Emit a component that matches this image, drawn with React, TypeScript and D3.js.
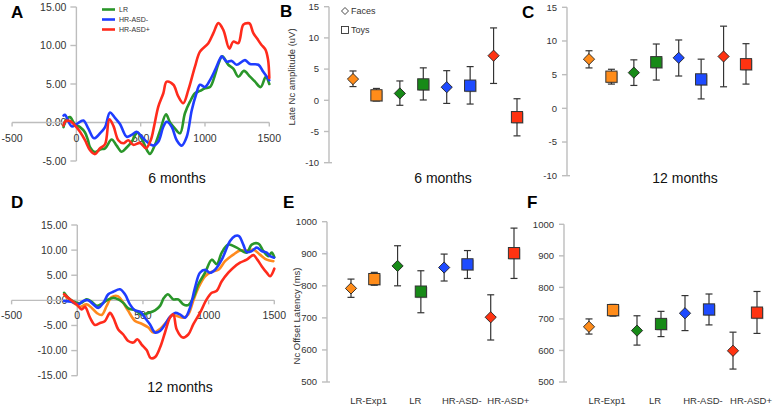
import React from 'react';
import * as d3 from 'd3';

// ---------- DATA ----------
const timeTicks = [-500, 0, 500, 1000, 1500];
const ampTicksA = [-5, 0, 5, 10, 15];
const ampTicksD = [-15, -10, -5, 0, 5, 10, 15];
const ncTicks = [-10, -5, 0, 5, 10, 15];
const latTicks = [500, 600, 700, 800, 900, 1000];

const groups = ['LR-Exp1', 'LR', 'HR-ASD-', 'HR-ASD+'];
const conditions = ['Faces', 'Toys'];
const groupColors = ['#FF8C1A', '#178A17', '#1E4BFF', '#FF3311'];
const lineColors = { exp1: '#FF8A1E', lr: '#2A962A', neg: '#1F3DFF', pos: '#FF2B1C' };

// Panel A: 6 months ERP (time ms, amplitude uV)
const a6LR: [number, number][] = [[-100,-0.6],[-89,0.1],[-50,0.7],[-10,-0.3],[28,-0.6],[67,-1.3],[90,-2.3],[106,-3.2],[145,-3.85],[184,-3.5],[223,-3.35],[274,-2.2],[313,-3.0],[352,-3.8],[391,-3.25],[430,-2.5],[474,-1.3],[508,-2.1],[552,-3.7],[572,-4.1],[611,-2.9],[650,-1.1],[697,1.05],[728,0.0],[767,-0.8],[806,-1.4],[844,1.2],[883,2.7],[922,3.8],[961,4.1],[1000,4.45],[1039,4.6],[1078,6.2],[1104,7.6],[1135,8.6],[1181,7.5],[1220,7.0],[1259,5.95],[1303,6.7],[1350,5.95],[1389,5.3],[1433,4.6],[1472,5.9],[1500,5.0]];
const a6HRneg: [number, number][] = [[-100,0.9],[-89,1.0],[-37,-0.5],[2,-0.2],[54,0.25],[93,-0.8],[137,-2.05],[184,-1.4],[223,-0.6],[261,1.3],[300,0.6],[339,-0.2],[391,-1.85],[430,-1.6],[469,-1.2],[508,-1.85],[547,-2.5],[598,-3.0],[637,-2.5],[676,-0.55],[702,0.1],[741,-0.55],[780,-2.3],[819,-3.0],[858,-1.85],[897,1.6],[930,3.6],[961,4.9],[1000,4.6],[1039,5.5],[1078,6.8],[1117,8.3],[1130,8.6],[1169,7.9],[1208,8.0],[1246,7.5],[1311,8.1],[1350,7.6],[1415,7.5],[1453,6.6],[1500,5.5]];
const a6HRpos: [number, number][] = [[-100,-0.4],[-89,0.1],[-50,0.2],[-10,-0.4],[28,-1.2],[67,-2.3],[106,-3.6],[145,-4.1],[184,-3.35],[223,-2.8],[256,0.4],[287,-0.4],[326,-2.3],[365,-2.7],[404,-2.3],[443,-2.9],[495,-2.65],[541,-3.35],[578,-2.3],[604,-0.5],[637,2.05],[676,3.8],[702,5.3],[754,4.9],[793,3.35],[831,2.5],[870,4.2],[922,7.25],[961,9.2],[1026,10.3],[1065,11.6],[1104,12.9],[1143,12.0],[1189,9.6],[1220,10.5],[1259,10.3],[1298,12.7],[1337,12.9],[1350,12.8],[1376,11.6],[1405,10.9],[1438,10.1],[1469,9.5],[1490,8.2],[1500,5.8]];

// Panel D: 12 months ERP
const d12Exp1: [number, number][] = [[-100,1.2],[-56,0.0],[-5,-0.9],[21,-1.3],[71,-0.8],[110,-1.5],[148,-2.5],[186,-2.9],[224,-1.1],[262,0.65],[312,0.8],[350,-0.5],[388,-2.1],[440,-4.1],[490,-4.65],[541,-5.4],[579,-6.4],[630,-5.7],[681,-4.25],[719,-3.0],[757,-3.1],[807,-3.45],[845,-2.8],[883,-0.1],[922,2.5],[973,4.8],[1024,5.7],[1075,6.1],[1125,7.8],[1188,9.1],[1239,9.9],[1302,9.9],[1341,10.1],[1391,9.1],[1442,8.1],[1493,7.8]];
const d12LR: [number, number][] = [[-100,1.5],[-56,0.2],[-5,-0.5],[33,-0.5],[71,0.2],[110,-0.3],[148,-1.1],[186,-0.7],[224,0.0],[274,0.5],[312,0.2],[350,-0.5],[388,-1.6],[440,-2.0],[490,-2.8],[541,-2.5],[592,-2.0],[630,-1.1],[660,0.5],[690,1.2],[731,0.2],[769,0.2],[807,-0.8],[845,-0.95],[883,0.5],[922,3.2],[973,5.5],[1024,8.1],[1062,7.2],[1100,9.5],[1150,11.1],[1214,10.5],[1290,9.5],[1328,11.1],[1379,11.3],[1417,9.8],[1455,8.8],[1480,9.5],[1500,8.6]];
const d12HRneg: [number, number][] = [[-100,-0.1],[-43,-0.3],[8,-0.8],[46,-0.1],[84,0.0],[122,-0.8],[160,-1.5],[198,-0.5],[236,1.2],[274,1.7],[325,2.2],[363,1.2],[401,-0.8],[440,-2.0],[480,-2.3],[516,-3.5],[554,-4.8],[592,-6.4],[630,-6.1],[668,-4.8],[706,-3.3],[744,-2.5],[782,-2.8],[820,-3.45],[858,-1.5],[896,2.5],[934,5.5],[973,6.1],[1011,5.5],[1049,6.1],[1100,8.1],[1163,11.8],[1201,12.8],[1231,12.8],[1264,11.1],[1290,9.6],[1328,9.8],[1366,10.5],[1404,9.8],[1442,9.5],[1468,8.8],[1498,8.5]];
const d12HRpos: [number, number][] = [[-100,1.2],[-56,0.2],[-5,-0.8],[33,-1.8],[59,-1.3],[97,-3.45],[135,-4.9],[173,-4.5],[211,-4.1],[249,-2.5],[274,-3.45],[312,-5.8],[350,-6.8],[388,-8.1],[427,-8.4],[457,-7.75],[490,-8.8],[528,-9.9],[559,-11.5],[592,-11.3],[630,-9.4],[668,-6.4],[706,-3.45],[731,-2.8],[757,-5.8],[803,-7.4],[845,-6.8],[883,-4.8],[934,-2.5],[985,0.2],[1024,1.5],[1062,1.9],[1100,3.8],[1150,5.5],[1188,6.5],[1239,7.5],[1290,8.1],[1341,9.0],[1371,8.1],[1404,6.8],[1442,5.5],[1468,4.8],[1500,6.3]];

// Panels B/C: Late Nc amplitude (order: group x [Faces, Toys])
const bMean = [3.4, 0.8, 1.1, 2.55, 2.1, 2.35, 7.15, -2.7];
const bLo = [2.2, -0.1, -0.8, 0.05, -0.5, -0.6, 2.7, -5.7];
const bHi = [4.7, 1.9, 3.1, 5.2, 4.75, 5.4, 11.6, 0.25];
const cMean = [7.3, 4.7, 5.3, 6.85, 7.5, 4.3, 7.7, 6.55];
const cLo = [6.0, 3.6, 3.4, 4.2, 4.8, 1.4, 3.2, 3.6];
const cHi = [8.55, 5.8, 7.2, 9.55, 10.15, 7.3, 12.2, 9.6];
// Panels E/F: Nc offset latency
const eMean = [792, 821, 862, 782, 857, 867, 702, 902];
const eLo = [764, 802, 800, 716, 815, 823, 631, 823];
const eHi = [821, 842, 925, 847, 899, 910, 772, 980];
const fMean = [675, 728, 663, 684, 718, 730, 599, 720];
const fLo = [652, 709, 617, 644, 663, 681, 541, 654];
const fHi = [700, 746, 710, 724, 774, 779, 658, 787];

// ---------- HELPERS ----------
const loc = d3.formatLocale({ decimal: '.', thousands: ',', grouping: [3], currency: ['', ''], minus: '-' });
const f2 = loc.format('.2f');
const f0 = loc.format('d');
const FONT = "'Liberation Sans', Arial, Helvetica, sans-serif";
const AXIS = '#bdbdbd';
const TXT = '#333';

type Series = { data: [number, number][]; color: string };

function LinePanel(props: {
  xRange: [number, number]; yRange: [number, number]; yDomain: [number, number]; yTicks: number[];
  series: Series[]; title: string; titleX: number; titleY: number;
}) {
  const { xRange, yRange, yDomain, yTicks, series, title, titleX, titleY } = props;
  const x = d3.scaleLinear().domain([-500, 1500]).range(xRange);
  const y = d3.scaleLinear().domain(yDomain).range(yRange);
  const line = d3.line<[number, number]>().x(d => x(d[0])).y(d => y(d[1])).curve(d3.curveCatmullRom.alpha(0.5));
  const y0 = y(0);
  const ax = x(0);
  return (
    <g>
      <line x1={ax} x2={ax} y1={y(yDomain[1])} y2={y(yDomain[0])} stroke={AXIS} strokeWidth={1.4} />
      {yTicks.map(t => (
        <g key={t}>
          <line x1={ax - 6} x2={ax} y1={y(t)} y2={y(t)} stroke={AXIS} strokeWidth={1.4} />
          <text x={ax - 10} y={y(t)} dy="0.35em" textAnchor="end" fontSize={10.5} fill={TXT}>{f2(t)}</text>
        </g>
      ))}
      <line x1={x(-500)} x2={x(1500)} y1={y0} y2={y0} stroke={AXIS} strokeWidth={1.4} />
      {timeTicks.map(t => (
        <g key={t}>
          <line x1={x(t)} x2={x(t)} y1={y0} y2={y0 + 4} stroke={AXIS} strokeWidth={1.4} />
          <text x={x(t)} y={y0 + 19} textAnchor="middle" fontSize={10.5} fill={TXT}>{f0(t)}</text>
        </g>
      ))}
      {series.map((s, i) => (
        <path key={i} d={line(s.data) || ''} fill="none" stroke={s.color} strokeWidth={2.6} strokeLinejoin="round" strokeLinecap="round" />
      ))}
      <text x={titleX} y={titleY} textAnchor="middle" fontSize={14} fill="#111">{title}</text>
    </g>
  );
}

function ScatterPanel(props: {
  axisX: number; xRange: [number, number]; yRange: [number, number]; yDomain: [number, number]; yTicks: number[];
  mean: number[]; lo: number[]; hi: number[]; title?: string; titleX?: number; titleY?: number;
  yLabel?: string; yLabelX?: number; yLabelY?: number; groupLabels?: boolean; labelY?: number;
}) {
  const { axisX, xRange, yRange, yDomain, yTicks, mean, lo, hi } = props;
  const idx = d3.range(mean.length);
  const x = d3.scalePoint<number>().domain(idx).range(xRange);
  const y = d3.scaleLinear().domain(yDomain).range(yRange);
  const r = 5.6;
  return (
    <g>
      <line x1={axisX} x2={axisX} y1={y(yDomain[1])} y2={y(yDomain[0])} stroke={AXIS} strokeWidth={1.4} />
      <line x1={axisX} x2={axisX + 3} y1={y(yDomain[0])} y2={y(yDomain[0])} stroke={AXIS} strokeWidth={1.4} />
      {yTicks.map(t => (
        <g key={t}>
          <line x1={axisX - 5} x2={axisX} y1={y(t)} y2={y(t)} stroke={AXIS} strokeWidth={1.4} />
          <text x={axisX - 10} y={y(t)} dy="0.35em" textAnchor="end" fontSize={9.5} fill={TXT}>{f0(t)}</text>
        </g>
      ))}
      {idx.map(i => {
        const cx = x(i) as number;
        return (
          <g key={'e' + i} stroke="#333" strokeWidth={1.2}>
            <line x1={cx} x2={cx} y1={y(lo[i])} y2={y(hi[i])} />
            <line x1={cx - 3.5} x2={cx + 3.5} y1={y(lo[i])} y2={y(lo[i])} />
            <line x1={cx - 3.5} x2={cx + 3.5} y1={y(hi[i])} y2={y(hi[i])} />
          </g>
        );
      })}
      {idx.map(i => {
        const cx = x(i) as number;
        const cy = y(mean[i]);
        const color = groupColors[Math.floor(i / 2)];
        const isFace = conditions[i % 2] === 'Faces';
        if (isFace) {
          const d = `M${cx},${cy - r}L${cx + r},${cy}L${cx},${cy + r}L${cx - r},${cy}Z`;
          return <path key={'m' + i} d={d} fill={color} stroke="#222" strokeWidth={0.9} />;
        }
        return (
          <g key={'m' + i}>
            <rect x={cx - r + 1} y={cy - r + 1} width={2 * r} height={2 * r} fill="#000" opacity={0.25} />
            <rect x={cx - r} y={cy - r} width={2 * r} height={2 * r} fill={color} stroke="#333" strokeWidth={1} />
          </g>
        );
      })}
      {props.title && (
        <text x={props.titleX} y={props.titleY} textAnchor="middle" fontSize={14} fill="#111">{props.title}</text>
      )}
      {props.yLabel && (
        <text transform={`translate(${props.yLabelX},${props.yLabelY}) rotate(-90)`} textAnchor="middle" fontSize={9.5} fill={TXT}>{props.yLabel}</text>
      )}
      {props.groupLabels && groups.map((g, gi) => {
        const cx = ((x(gi * 2) as number) + (x(gi * 2 + 1) as number)) / 2 + 6;
        return <text key={g} x={cx} y={props.labelY} textAnchor="middle" fontSize={9.5} fill={TXT}>{g}</text>;
      })}
    </g>
  );
}

function Letter({ x, y, t }: { x: number; y: number; t: string }) {
  return <text x={x} y={y} fontSize={17} fontWeight="bold" fill="#000">{t}</text>;
}

export default function App() {
  const legendA = [
    { label: 'LR', color: lineColors.lr },
    { label: 'HR-ASD-', color: lineColors.neg },
    { label: 'HR-ASD+', color: lineColors.pos },
  ];
  const legendY = d3.scalePoint<number>().domain([0, 1, 2]).range([9.5, 29.5]);
  return (
    <svg width={778} height={408} style={{ position: 'absolute', left: 0, top: 0, background: '#fff', fontFamily: FONT }}>
      <rect width={778} height={408} fill="#fff" />
      {/* A */}
      <LinePanel xRange={[12.1, 269.3]} yRange={[161, 7]} yDomain={[-5, 15]} yTicks={ampTicksA}
        series={[{ data: a6LR, color: lineColors.lr }, { data: a6HRneg, color: lineColors.neg }, { data: a6HRpos, color: lineColors.pos }]}
        title="6 months" titleX={177} titleY={183} />
      {legendA.map((l, i) => (
        <g key={l.label}>
          <line x1={102} x2={115} y1={legendY(i)} y2={legendY(i)} stroke={l.color} strokeWidth={2.6} />
          <text x={119} y={legendY(i)} dy="0.35em" fontSize={7} fill={TXT}>{l.label}</text>
        </g>
      ))}
      {/* D */}
      <LinePanel xRange={[11.6, 274.3]} yRange={[375.7, 225]} yDomain={[-15, 15]} yTicks={ampTicksD}
        series={[{ data: d12Exp1, color: lineColors.exp1 }, { data: d12LR, color: lineColors.lr }, { data: d12HRneg, color: lineColors.neg }, { data: d12HRpos, color: lineColors.pos }]}
        title="12 months" titleX={180} titleY={392} />
      {/* B */}
      <ScatterPanel axisX={329} xRange={[353, 517]} yRange={[162.7, 6.7]} yDomain={[-10, 15]} yTicks={ncTicks}
        mean={bMean} lo={bLo} hi={bHi} title="6 months" titleX={443} titleY={183}
        yLabel="Late Nc amplitude (uV)" yLabelX={295} yLabelY={77} />
      <path d="M345,7.5L348.5,11L345,14.5L341.5,11Z" fill="#fff" stroke="#333" strokeWidth={0.9} />
      <text x={351} y={11} dy="0.35em" fontSize={9} fill={TXT}>{conditions[0]}</text>
      <rect x={341.5} y={26.5} width={7} height={7} fill="#fff" stroke="#333" strokeWidth={0.9} />
      <text x={351} y={30} dy="0.35em" fontSize={9} fill={TXT}>{conditions[1]}</text>
      {/* C */}
      <ScatterPanel axisX={567} xRange={[589, 746]} yRange={[175.7, 7.3]} yDomain={[-10, 15]} yTicks={ncTicks}
        mean={cMean} lo={cLo} hi={cHi} title="12 months" titleX={685} titleY={183} />
      {/* E */}
      <ScatterPanel axisX={327} xRange={[351, 514]} yRange={[382, 221.7]} yDomain={[500, 1000]} yTicks={latTicks}
        mean={eMean} lo={eLo} hi={eHi} yLabel="Nc Offset Latency (ms)" yLabelX={300} yLabelY={316} groupLabels labelY={404} />
      {/* F */}
      <ScatterPanel axisX={564} xRange={[589, 757]} yRange={[382, 224.3]} yDomain={[500, 1000]} yTicks={latTicks}
        mean={fMean} lo={fLo} hi={fHi} groupLabels labelY={404} />
      <Letter x={11} y={18} t="A" />
      <Letter x={280} y={17} t="B" />
      <Letter x={522} y={18} t="C" />
      <Letter x={11} y={208} t="D" />
      <Letter x={283} y={208} t="E" />
      <Letter x={527} y={208} t="F" />
    </svg>
  );
}
